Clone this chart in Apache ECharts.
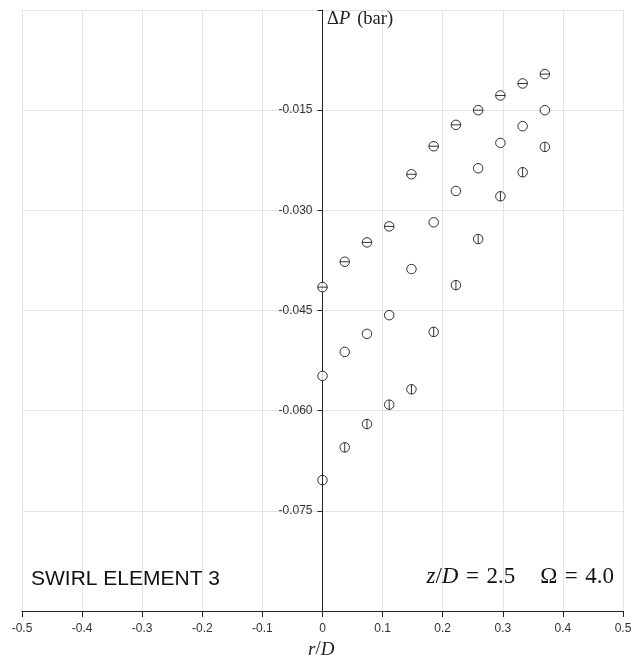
<!DOCTYPE html>
<html>
<head>
<meta charset="utf-8">
<script src="https://cdn.jsdelivr.net/npm/echarts@6/dist/echarts.min.js"></script>
<style>
  html, body { margin: 0; padding: 0; background: #fff; }
  #chart { width: 632px; height: 665px; }
</style>
</head>
<body>
<div id="chart"></div>
<script>
// Radial stations r/D
const radii = [0, 0.037, 0.074, 0.111, 0.148, 0.185, 0.222, 0.259, 0.296, 0.333, 0.370];

// Pressure drop ΔP (bar) for the three measurement sets
const dpSetA = [-0.0415, -0.0377, -0.0348, -0.0324, -0.0246, -0.0204, -0.0172, -0.0150, -0.0128, -0.0110, -0.0096];
const dpSetB = [-0.0548, -0.0512, -0.0485, -0.0457, -0.0388, -0.0318, -0.0271, -0.0237, -0.0199, -0.0174, -0.0150];
const dpSetC = [-0.0704, -0.0655, -0.0620, -0.0591, -0.0568, -0.0482, -0.0412, -0.0343, -0.0279, -0.0243, -0.0205];

// Axis ranges / ticks
const xMin = -0.5, xMax = 0.5, xStep = 0.1;
const yMin = -0.09, yMax = 0, yStep = 0.015;

const pairs = (ys) => radii.map((r, i) => [r, ys[i]]);

// Marker glyphs: open circle, circle with horizontal bar, circle with vertical bar
const ring = 'M0,-5A5,5,0,1,1,0,5A5,5,0,1,1,0,-5Z';
const ringH = 'path://' + ring + 'M-5,0L5,0';
const ringV = 'path://' + ring + 'M0,-5L0,5';
const ringO = 'path://' + ring;

const markerStyle = { color: '#fff', borderColor: '#000', borderWidth: 1 };

function scatter(name, ys, symbol) {
  return {
    name, type: 'scatter', data: pairs(ys), symbol, symbolSize: 9.5,
    itemStyle: markerStyle, emphasis: { disabled: true }, z: 5
  };
}

const GRID = { left: 22, right: 9, top: 10, bottom: 54 };
const plotWidth = 632 - GRID.left - GRID.right;
// the vertical axis sits at r/D = 0, i.e. in the middle of the plot
const yAxisShift = -plotWidth * (0 - xMin) / (xMax - xMin);

const chart = echarts.init(document.getElementById('chart'), null, { renderer: 'canvas' });

const axisLine = { lineStyle: { color: '#222', width: 1 } };
const tickLbl = { color: '#333', fontSize: 12, fontFamily: 'Liberation Sans, Arial, sans-serif' };
const serif = 'Liberation Serif, Times New Roman, serif';

chart.setOption({
  animation: false,
  backgroundColor: '#fff',
  grid: { ...GRID, containLabel: false, outerBoundsMode: 'none' },
  xAxis: {
    type: 'value', min: xMin, max: xMax, interval: xStep,
    axisLine: { ...axisLine, onZero: false },
    axisTick: { show: true, length: 6, lineStyle: { color: '#222' } },
    axisLabel: { ...tickLbl, margin: 12, formatter: v => (Math.abs(v) < 1e-9 ? '0' : +v.toFixed(1) + '') },
    splitLine: { show: true, lineStyle: { color: '#e3e3e3', width: 1 } }
  },
  yAxis: {
    type: 'value', min: yMin, max: yMax, interval: yStep,
    position: 'left', offset: yAxisShift,
    axisLine: { ...axisLine, onZero: false },
    axisTick: { show: true, length: 5, lineStyle: { color: '#222' } },
    axisLabel: {
      ...tickLbl, margin: 10,
      formatter: v => (Math.abs(v) < 1e-9 || Math.abs(v - yMin) < 1e-9) ? '' : v.toFixed(3)
    },
    splitLine: { show: true, lineStyle: { color: '#e3e3e3', width: 1 } }
  },
  series: [
    scatter('set A', dpSetA, ringH),
    scatter('set B', dpSetB, ringO),
    scatter('set C', dpSetC, ringV)
  ],
  graphic: [
    {
      type: 'text', left: 327, top: 10, z: 20,
      style: {
        text: '{u|Δ}{i|P}{s|}{u|(bar)}',
        rich: {
          u: { fontFamily: serif, fontSize: 18.5, fill: '#222' },
          i: { fontFamily: serif, fontSize: 18.5, fontStyle: 'italic', fill: '#222' },
          s: { width: 7 }
        }
      }
    },
    {
      type: 'text', left: 31, top: 569, z: 20,
      style: { text: 'SWIRL ELEMENT 3', fontFamily: 'Liberation Sans, Arial, sans-serif', fontSize: 21, fill: '#111' }
    },
    {
      type: 'text', right: 18, top: 565, z: 20,
      style: {
        text: '{i|z}{u|/}{i|D}{eq|=}{u|2.5}{sp|}{u|Ω}{eq|=}{u|4.0}',
        rich: {
          u: { fontFamily: serif, fontSize: 23, fill: '#111' },
          i: { fontFamily: serif, fontSize: 23, fontStyle: 'italic', fill: '#111' },
          eq: { fontFamily: serif, fontSize: 23, fill: '#111', width: 28, align: 'center' },
          sp: { width: 25 }
        }
      }
    },
    {
      type: 'text', left: 308, top: 640, z: 20,
      style: {
        text: '{i|r}{u|/}{i|D}',
        rich: {
          u: { fontFamily: serif, fontSize: 19, fill: '#222' },
          i: { fontFamily: serif, fontSize: 19, fontStyle: 'italic', fill: '#222' }
        }
      }
    }
  ]
});
</script>
</body>
</html>
